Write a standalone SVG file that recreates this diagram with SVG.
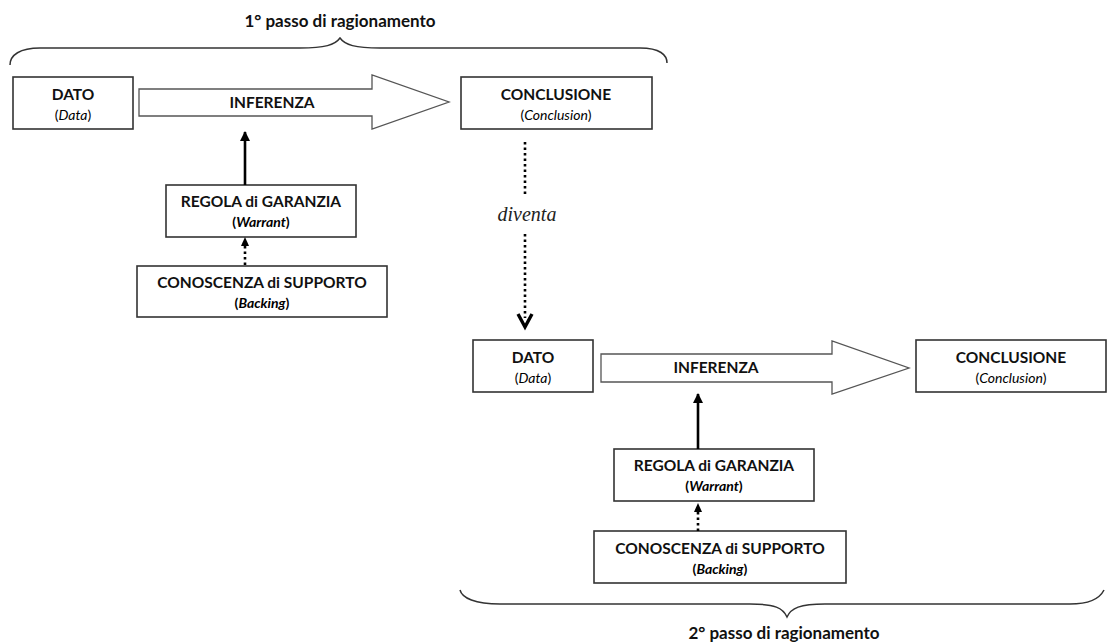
<svg xmlns="http://www.w3.org/2000/svg" width="1108" height="644" viewBox="0 0 1108 644">
<defs>
<style>
.box{fill:#fff;stroke:#333;stroke-width:1.6}
.big{fill:#fff;stroke:#555;stroke-width:1.3}
.t{font-family:Lato,"Liberation Sans",sans-serif;font-weight:bold;font-size:15.5px;fill:#111;text-anchor:middle}
.h{font-size:17px}
.s{font-family:Lato,"Liberation Sans",sans-serif;font-size:14px;fill:#000;text-anchor:middle}
.it{font-style:italic}
.brace{fill:none;stroke:#333;stroke-width:1.5}
.solid{stroke:#000;stroke-width:2.6;fill:none}
.dot{stroke:#000;stroke-width:2.6;stroke-dasharray:2.5 3;fill:none}
</style>
<marker id="ah" viewBox="0 0 10 10" refX="9" refY="5" markerWidth="4" markerHeight="4" orient="auto"><path d="M0,0 L10,5 L0,10 Z" fill="#000"/></marker>
</defs>

<g id="brace-top">
<path class="brace" d="M10,65 C10,55 20,48 40,48 L300,48 C325,48 335,45 340,38 C345,45 355,48 380,48 L640,48 C660,48 667,55 667,63"/>
<text class="t h" x="340" y="27">1° passo di ragionamento</text>
</g>

<g id="dato1">
<rect class="box" x="13" y="77" width="120" height="52"/>
<text class="t" x="73" y="100">DATO</text>
<text class="s" x="73" y="120">(<tspan class="it">Data</tspan>)</text>
</g>

<g id="inferenza1">
<path class="big" d="M139,89 L372,89 L372,75 L449,102 L372,129 L372,116 L139,116 Z"/>
<text class="t" x="272" y="108">INFERENZA</text>
</g>

<g id="conclusione1">
<rect class="box" x="461" y="77" width="191" height="52"/>
<text class="t" x="556" y="100">CONCLUSIONE</text>
<text class="s" x="556" y="120">(<tspan class="it">Conclusion</tspan>)</text>
</g>

<g id="regola1">
<rect class="box" x="166" y="185" width="190" height="52"/>
<text class="t" x="261" y="207">REGOLA di GARANZIA</text>
<text class="s" x="261" y="227" font-weight="bold">(<tspan class="it">Warrant</tspan>)</text>
</g>

<g id="conoscenza1">
<rect class="box" x="137" y="266" width="250" height="51"/>
<text class="t" x="262" y="288">CONOSCENZA di SUPPORTO</text>
<text class="s" x="262" y="308" font-weight="bold">(<tspan class="it">Backing</tspan>)</text>
</g>

<g id="diventa">
<text x="527" y="221" font-family="'Liberation Serif',serif" font-style="italic" font-size="20" fill="#222" text-anchor="middle">diventa</text>
</g>

<g id="dato2">
<rect class="box" x="473" y="340" width="120" height="52"/>
<text class="t" x="533" y="363">DATO</text>
<text class="s" x="533" y="383">(<tspan class="it">Data</tspan>)</text>
</g>

<g id="inferenza2">
<path class="big" d="M601,354 L832,354 L832,341 L909,368 L832,394 L832,382 L601,382 Z"/>
<text class="t" x="716" y="373">INFERENZA</text>
</g>

<g id="conclusione2">
<rect class="box" x="916" y="340" width="190" height="52"/>
<text class="t" x="1011" y="363">CONCLUSIONE</text>
<text class="s" x="1011" y="383">(<tspan class="it">Conclusion</tspan>)</text>
</g>

<g id="regola2">
<rect class="box" x="614" y="449" width="200" height="52"/>
<text class="t" x="714" y="471">REGOLA di GARANZIA</text>
<text class="s" x="714" y="491" font-weight="bold">(<tspan class="it">Warrant</tspan>)</text>
</g>

<g id="conoscenza2">
<rect class="box" x="594" y="531" width="252" height="52"/>
<text class="t" x="720" y="554">CONOSCENZA di SUPPORTO</text>
<text class="s" x="720" y="574" font-weight="bold">(<tspan class="it">Backing</tspan>)</text>
</g>

<g id="brace-bottom">
<path class="brace" d="M460,590 C462,598 475,604 500,604 L750,604 C775,604 783,608 787,617 C791,608 800,604 825,604 L1070,604 C1090,604 1100,598 1104,590"/>
<text class="t h" x="784" y="639">2° passo di ragionamento</text>
</g>

<g id="connectors">
<line class="solid" x1="245" y1="185" x2="245" y2="132" marker-end="url(#ah)"/>
<line class="dot" x1="245" y1="265" x2="245" y2="244"/>
<path d="M241,246 L245,237 L249,246 Z" fill="#000"/>
<line class="solid" x1="698" y1="449" x2="698" y2="394" marker-end="url(#ah)"/>
<line class="dot" x1="698" y1="531" x2="698" y2="511"/>
<path d="M694,512 L698,503 L702,512 Z" fill="#000"/>
<line class="dot" x1="525" y1="142" x2="525" y2="197"/>
<line class="dot" x1="525" y1="234" x2="525" y2="318"/>
<path d="M518,314 L525,327 L532,314" fill="none" stroke="#000" stroke-width="3.4"/>
</g>
</svg>
